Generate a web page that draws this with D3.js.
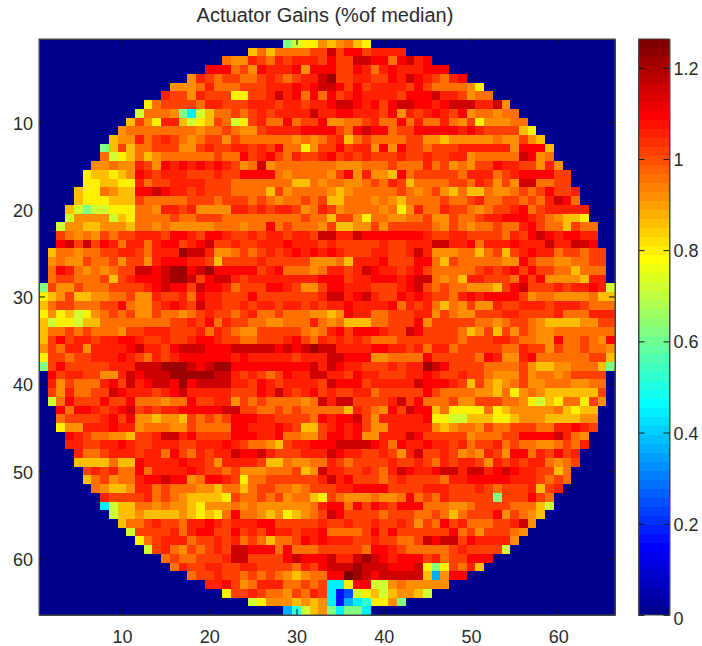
<!DOCTYPE html>
<html><head><meta charset="utf-8">
<script src="https://cdn.jsdelivr.net/npm/d3@7"></script>
<style>
html,body{margin:0;padding:0;background:#fff;}
svg{display:block;}
text{font-family:"Liberation Sans",Arial,sans-serif;fill:#2b2b2b;}
</style></head><body><svg id="c" width="702" height="646"></svg>
<script>
const title = "Actuator Gains (%of median)";
const nActuators = 66;
const colorMax = 1.263;
const xTicks = [10,20,30,40,50,60];
const yTicks = [10,20,30,40,50,60];
const barTicks = [0,0.2,0.4,0.6,0.8,1,1.2];
// Gain for each letter used in the rows below
const codeChars = ["1","b","a","2","c","3","4","5","6","7","8","9","A","B","C","D","E"];
const codeGains = [0.17,0.24,0.36,0.45,0.52,0.62,0.72,0.79,0.85,0.91,0.965,1.01,1.055,1.10,1.155,1.21,1.26];
// Left half of each row, ending at column 33
const gainsLeft = [
"34557","686888899","877A98A9AAA9","BBB897BAAAB7BB","7A9899889A989AAC","7778A888999AAABABC","A997A9995599ACAB8B8","5899998AA999AAA9AA9AA",
"48887324688989A9AAAACA","6975AA645698459A88B899B","78888888878898779AAAABBB","677A89A987899798888887878","369688999779A99AA9A9B88579","8456867888888988B9AB98A99A","77877A97BABABABA978C7888888","566567BA9AAA999A99BBBB878888",
"556655A899AAAA99988888886687","6558766BBCBAA9A99988886978888","65556669888889998999898788989","64344555887AA9A7777AA9A9AA978A","477774658888988999888888888988","477667776887877777888788B898887","987879899AAA9BBA9BBA99A9AA9AA9C","BC9C9BA8AA8ABB9ABC99A99AAABAAA9",
"68878899AA98AAADCCA778989A9ABABA","787798897997ABBBAA969999A9999977","8BA8787899CCBCDDBCDBBBBB9AB88878","899888969ABBBCDDC9BCCA9AAAAAAAAB","397798889999ABCBB9CBBA8999BBA9779","5679667788977A99A8BAA999B9999999A","689988899B8779ABA9CAA99A9AA9AA9A9","5756457898977988789A9989A88988877",
"64554668888888899A9B8A998877888A8","688989888799AAA999A8A987799999878","69B9AA9AABBA99A99ABBA9988999AB98A","798AA7AAAABCAA9BCCCBBBCCCCCBCBCDC","599899AAABA98A9ABBBBBBABAAAAA9AAA","39B99999AAACCCDDDCBCDDBBBBBBBBBCA","B9AA9977ACBCCCDDDDDCCA9A989BAACC","A79888AB9CABCCBDBCCCCAA9BA9AAAA9",
"97A8899CBAAA9ABCAAAAA999BACA9AB9","48B999B99B888788B99AA7989888878C","B8BBA9ABC9A9AABBBBBCC9988989888","89999AB9B77677698989BBBAA99998B","577AAABAA78887798888BBAAABA9669","BA98877699ACCAB9999BBBAAB88779","AA99AABA99AAA99AAABA988769AABB","A889AAA9AA8B98A9AACBBCA999AAA",
"6666866BAAAABAA97AAAA96687788","9A9A88B8AAAABA9989777888967C","689788ABBCBB78BBA9588999999A","87667AA89888776886899887899","A9999A89876666598898978865","2466887877657778787777778A","46676666765658B8876756789","6889A998AABA9AAABB99999A",
"49999A8ABB99B9A9BAA9AAB","589AAA899A9A8986889BAB","49A87989A9CCBBB8B8889","8988999ACC9999BCBBB","8A99AA99AA99998A9B","899A998989876788","AAB978AAA88989","599A988798A9","457776767","ac467"];
// Right half of each row, starting at column 34
const gainsRight = [
"67865","C9BB9AAAA","B99CCBB8BCAB","B99BA8ABAAABBB","D99AA99BACBA98AB","CB9B9AAAA9B9888875","B9ABAAAA9BBBCAA9788","BCCBAB9BCCBBABCCCAAC7",
"ABBAAA9B7A9ABA9B788788","77889A88B8A88A879577788","B98BCBB899BBBBBABA999965","9A68988889977677777877976","9B9AA7B7B998999AAAAAA7BBB6","B9A9A999A99A99AA788888CB78","87778889888A8978799BAA997A7","79B7A776B8999998AAA89ABBBB99",
"8877898A968888998A9797CC8899","7678888898789768668778989B99A","66888787688889889A8899898ACB8","9788887857A88A9987899AB89AAAAA","699758877889779889AABBBA987665","9667797999998798788988AB9886988","CAACBBBBBBBA99AA99998A9BCBABBAA","A99999A99AAACCAAB8AAABAAACAACCB",
"BA999AA99ACA7778868969ABAA899899","786AAAB999BB8698888877B988778899","AA9ACBAA9AB9888889A9AB9B99886888","BB9AABBBABCC8786AA9998B9B77776AA","BBAAA999ABC9898877769BC999A9AABA4","CCABCA99BABA998ABABBBB97887777866","AABAAAAB8A9A8687977A99AAA9AAA9888","67BAA88999AA79877999AA9999A888AAA",
"7866688999B7999998878998766667799","AB9BBBA99CB9999867969798778888888","9A9A988899999998999AA98877B88987B","CAAAABBAA9A8AA89999988A9979889887","CCBBB778888B999998BA77AB888888996","CBAA999A9AADCB9999888897667788863","AA9BAA999AABA99A9987779788789999","CBBB9AAAAACBBBA96976789778887788",
"A99AA899999B98888776857876666669","ACC9999AC9B888977999887546588597","886A987B9CBB6855558567777786566","ABBC97AAAAAB5544666556777666677","ABAB977AAAAA76788798899988AABA9","BBAB77AAACB99999788899BBBBCA87","BCCCCBA8BAABAA9A899A898877898A","CBAA99A97AC99A9787A97BB8A9B9A",
"A989999A99A98A9AA97A9A9AA8789","AA99A98ACBAABCCACCABCBAA9968","CAB99989A99998AABBBBBAAA9898","9AABBBB9999AAA999A98999A69A","987778778B898A999993999B98","BB8B9BA9BBB888778999988864","CB99998999889868999B79876","99A99A99A9798B9A88899AC7",
"88889B9B999999B89799987","AAA99A99889CBCC9BAAAA7","99998BBA9888889A99994","CAACDCBABBB9A899BBB","CCCDCCCBBBC53598A6","BBEDCBCCCCC6a7BB","225BB447877777","21b456467764","21a2c5573","32332"];

const x = d3.scaleLinear().domain([0.5,nActuators+0.5]).range([39,615]);
const y = d3.scaleLinear().domain([0.5,nActuators+0.5]).range([39,615]);
const barY = d3.scaleLinear().domain([0,colorMax]).range([615,39]);
const jetLevels = 64;
function clamp01(v){return Math.max(0,Math.min(1,v));}
function jet(v){
  const i=Math.min(jetLevels-1,Math.max(0,Math.floor(v/colorMax*jetLevels)));
  const t=(i+1)/jetLevels;
  const f=c=>Math.round(255*clamp01(1.5-Math.abs(4*t-c)));
  return d3.rgb(f(3),f(2),f(1)).formatHex();
}
const codeScale = d3.scaleOrdinal().domain(codeChars).range(codeGains);
const cells=[];
d3.range(1,nActuators+1).forEach(r=>{
  const L=gainsLeft[r-1], R=gainsRight[r-1];
  d3.range(1,nActuators+1).forEach(c=>{
    let ch=null;
    if(c<=33){const k=L.length-(34-c); if(k>=0) ch=L[k];}
    else {const k=c-34; if(k<R.length) ch=R[k];}
    cells.push({r,c,v:ch?codeScale(ch):0});
  });
});
const svg=d3.select("#c");
svg.append("g").attr("shape-rendering","crispEdges").selectAll("rect").data(cells).join("rect")
  .attr("x",d=>Math.round(x(d.c-0.5))).attr("y",d=>Math.round(y(d.r-0.5)))
  .attr("width",d=>Math.round(x(d.c+0.5))-Math.round(x(d.c-0.5)))
  .attr("height",d=>Math.round(y(d.r+0.5))-Math.round(y(d.r-0.5)))
  .attr("fill",d=>jet(d.v));

function style(g){
  g.selectAll("text").style("font-size","18px").style("font-family",'"Liberation Sans",Arial,sans-serif').attr("fill","#2b2b2b");
  g.selectAll("line").attr("stroke","#111");
  g.select(".domain").attr("stroke","#444");
}
svg.append("g").attr("transform","translate(0,615)").call(d3.axisBottom(x).tickValues(xTicks).tickSizeInner(-6).tickSizeOuter(0).tickPadding(15)).call(style);
svg.append("g").attr("transform","translate(0,39)").call(d3.axisTop(x).tickValues(xTicks).tickSizeInner(-6).tickSizeOuter(0).tickFormat("")).call(style);
svg.append("g").attr("transform","translate(39,0)").call(d3.axisLeft(y).tickValues(yTicks).tickSizeInner(-6).tickSizeOuter(0).tickPadding(6)).call(style)
  .selectAll("text").attr("dy","0.4em");
svg.append("g").attr("transform","translate(615,0)").call(d3.axisRight(y).tickValues(yTicks).tickSizeInner(-6).tickSizeOuter(0).tickFormat("")).call(style);

svg.append("text").attr("x",325).attr("y",22).attr("text-anchor","middle").style("font-size","20px").text(title);

// colour bar
svg.append("g").attr("shape-rendering","crispEdges").selectAll("rect").data(d3.range(jetLevels)).join("rect")
  .attr("x",639).attr("width",31)
  .attr("y",i=>Math.round(barY((i+1)*colorMax/jetLevels)))
  .attr("height",i=>Math.round(barY(i*colorMax/jetLevels))-Math.round(barY((i+1)*colorMax/jetLevels)))
  .attr("fill",i=>jet((i+0.5)*colorMax/jetLevels));
const barAxis=svg.append("g").attr("transform","translate(669.5,0)").call(d3.axisRight(barY).tickValues(barTicks).tickFormat(d=>String(d)).tickSizeInner(-6).tickSizeOuter(0).tickPadding(4)).call(style);
barAxis.selectAll("text").attr("dy",d=>d===0?"0.5em":"0.36em");
svg.append("g").attr("transform","translate(638.5,0)").call(d3.axisLeft(barY).tickValues(barTicks).tickFormat("").tickSizeInner(-6).tickSizeOuter(0)).call(style);
svg.append("rect").attr("x",638.5).attr("y",39).attr("width",31).attr("height",576).attr("fill","none").attr("stroke","#444");
svg.append("rect").attr("x",39).attr("y",39).attr("width",576).attr("height",576).attr("fill","none").attr("stroke","#444");
</script></body></html>
